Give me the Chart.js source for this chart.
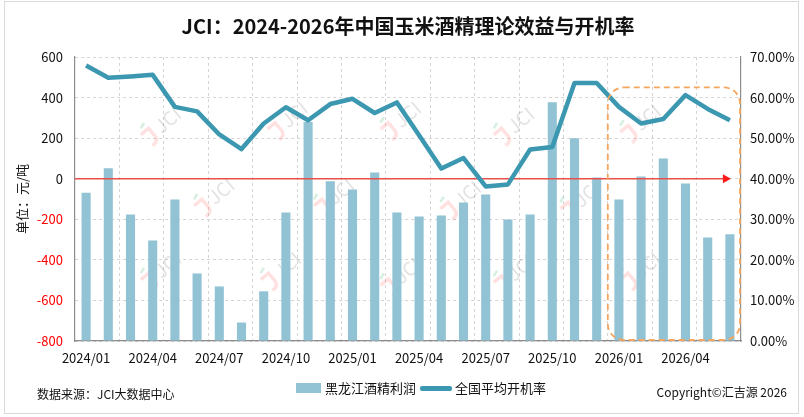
<!DOCTYPE html>
<html>
<head>
<meta charset="utf-8">
<script src="https://cdn.jsdelivr.net/npm/chart.js@4"></script>
<style>
body{margin:0;background:#fff;font-family:"Noto Sans CJK SC","Noto Sans",sans-serif;}
#wrap{position:relative;width:804px;height:417px;overflow:hidden;}
#frame{position:absolute;left:4px;top:1px;width:793px;height:411px;border:1px solid #d9d9d9;}
#myChart{position:absolute;left:0;top:0;}
#title{position:absolute;left:75px;width:666px;top:12px;text-align:center;font-size:20px;font-weight:bold;color:#111;line-height:28px;}
#legend{position:absolute;left:296px;top:378px;font-size:13px;color:#111;line-height:18px;white-space:nowrap;}
#legend span{display:inline-block;vertical-align:middle;}
.sw-bar{width:25px;height:10px;background:#92c3d4;margin-right:4px;}
.sw-line{width:32px;height:5px;background:#3c97b0;border-radius:2px;margin:0 3px 0 4px;}
#source{position:absolute;left:37px;top:385px;font-size:12px;color:#111;line-height:18px;}
#copy{position:absolute;right:17px;top:383px;font-size:12px;color:#111;line-height:18px;}
</style>
</head>
<body>
<div id="wrap">
<div id="frame"></div>
<canvas id="myChart" width="804" height="417"></canvas>
<div id="title">JCI：2024-2026年中国玉米酒精理论效益与开机率</div>
<div id="legend"><span class="sw-bar"></span><span>黑龙江酒精利润</span><span class="sw-line"></span><span>全国平均开机率</span></div>
<div id="source">数据来源：JCI大数据中心</div>
<div id="copy">Copyright©汇吉源 2026</div>
</div>
<script>
// months shown on x axis (every 3rd gets a label)
const months = ["2024/01","2024/02","2024/03","2024/04","2024/05","2024/06","2024/07","2024/08","2024/09","2024/10","2024/11","2024/12",
"2025/01","2025/02","2025/03","2025/04","2025/05","2025/06","2025/07","2025/08","2025/09","2025/10","2025/11","2025/12",
"2026/01","2026/02","2026/03","2026/04","2026/05","2026/06"];
// 黑龙江酒精利润 (元/吨)
const profit = [-69,51,-176,-305,-102,-467,-531,-709,-555,-166,280,-13,
-53,31,-166,-186,-181,-117,-78,-201,-176,377,199,6,
-102,11,100,-23,-290,-274];
// 全国平均开机率 (%)
const rate = [67.9,64.9,65.2,65.6,57.7,56.6,50.9,47.3,53.6,57.6,54.4,58.4,
59.7,56.2,58.8,50.7,42.5,45.1,38.1,38.6,47.2,47.8,63.6,63.6,
57.7,53.6,54.7,60.6,57.2,54.4];
const leftTicks = [-800,-600,-400,-200,0,200,400,600];
const rightTicks = [0,10,20,30,40,50,60,70];
const highlightFrom = "2026/01";
const highlightTop = 62.5;

const font = "'Noto Sans CJK SC','Noto Sans',sans-serif";

// faint JCI watermarks, positions as fractions of the plot area
const marks = [[0.13,0.24],[0.32,0.22],[0.49,0.22],[0.66,0.24],[0.85,0.23],
[0.21,0.49],[0.39,0.49],[0.58,0.5],[0.76,0.5],
[0.13,0.75],[0.31,0.75],[0.49,0.77],[0.66,0.76],[0.85,0.75]];

const decor = {
  id: "decor",
  beforeDatasetsDraw(chart){
    const c = chart.ctx, a = chart.chartArea;
    c.save();
    marks.forEach(m => {
      c.save();
      c.translate(a.left + m[0]*(a.right-a.left), a.top + m[1]*(a.bottom-a.top));
      c.rotate(-0.7);
      c.strokeStyle = "rgba(255,120,120,0.22)";
      c.lineWidth = 3.5;
      c.beginPath();
      c.moveTo(-22,-6);c.lineTo(-12,-6);c.lineTo(-12,4);c.quadraticCurveTo(-12,10,-20,10);
      c.stroke();
      c.strokeStyle = "rgba(90,190,130,0.25)";
      c.lineWidth = 2.5;
      c.beginPath();c.moveTo(-18,-11);c.lineTo(-12,-13);c.stroke();
      c.fillStyle = "rgba(110,110,110,0.2)";
      c.font = "19px " + font;
      c.textBaseline = "middle";
      c.fillText("JCI", -6, 0);
      c.restore();
    });
    c.restore();
  },
  afterDatasetDraw(chart, args){
    if(args.index !== 0) return;
    const c = chart.ctx, a = chart.chartArea;
    const y0 = chart.scales.y.getPixelForValue(0);
    const end = chart.scales.x.getPixelForValue(months.length-1) + 1;
    c.save();
    c.strokeStyle = "#e8504a";
    c.lineWidth = 1.5;
    c.beginPath();c.moveTo(a.left,y0);c.lineTo(end-6,y0);c.stroke();
    c.fillStyle = "#ff1a1a";
    c.beginPath();c.moveTo(end,y0);c.lineTo(end-8,y0-4.5);c.lineTo(end-8,y0+4.5);c.closePath();c.fill();
    c.restore();
  },
  afterDraw(chart){
    const c = chart.ctx, a = chart.chartArea, x = chart.scales.x;
    const i = months.indexOf(highlightFrom);
    const half = (x.getPixelForValue(1) - x.getPixelForValue(0))/2;
    const l = x.getPixelForValue(i) - half, r = a.right - 1;
    const t = chart.scales.y1.getPixelForValue(highlightTop), b = a.bottom - 1;
    const rad = 16;
    c.save();
    c.strokeStyle = "#f4a55e";
    c.lineWidth = 1.8;
    c.setLineDash([6,4]);
    c.beginPath();
    c.roundRect(l, t, r-l, b-t, rad);
    c.stroke();
    c.restore();
  }
};

new Chart("myChart", {
  data: {
    labels: months,
    datasets: [{
      type: "bar",
      label: "黑龙江酒精利润",
      data: profit,
      yAxisID: "y",
      base: leftTicks[0],
      backgroundColor: "#92c3d4",
      barPercentage: 0.41,
      categoryPercentage: 1,
      order: 1
    },{
      type: "line",
      label: "全国平均开机率",
      data: rate,
      yAxisID: "y1",
      borderColor: "#3c97b0",
      borderWidth: 4.5,
      pointRadius: 0,
      tension: 0,
      borderJoinStyle: "round",
      order: 0
    }]
  },
  plugins: [decor],
  options: {
    responsive: false,
    animation: false,
    layout: {padding: {top: 57, left: 0, right: 0, bottom: 0}},
    plugins: {legend: {display: false}, tooltip: {enabled: false}},
    scales: {
      x: {
        offset: true,
        grid: {
          offset: true,
          drawTicks: false,
          color: ctx => (ctx.index % 2 === 0 && ctx.index > 0 && ctx.index < months.length) ? "#d4d4d4" : "rgba(0,0,0,0)"
        },
        border: {color: "#8c8c8c", width: 1.2, dash: [3,3]},
        ticks: {
          autoSkip: false, maxRotation: 0, padding: 9,
          color: "#111", font: {family: font, size: 13},
          callback: (v, i) => i % 3 === 0 ? months[i] : ""
        },
        afterFit: s => { s.height = 76; }
      },
      y: {
        position: "left",
        min: -800, max: 600,
        afterBuildTicks: s => { s.ticks = leftTicks.map(v => ({value: v})); },
        grid: {color: "#d4d4d4", drawTicks: false},
        border: {color: "#8c8c8c", width: 1.2, dash: [3,3]},
        ticks: {
          padding: 12,
          color: ctx => ctx.tick && ctx.tick.value < 0 ? "#ff0000" : "#111",
          font: {family: font, size: 13}
        },
        title: {display: true, text: "单位：元/吨", color: "#111", font: {family: font, size: 13}, padding: {top: 14}},
        afterFit: s => { s.width = 75; }
      },
      y1: {
        position: "right",
        min: 0, max: 70,
        afterBuildTicks: s => { s.ticks = rightTicks.map(v => ({value: v})); },
        grid: {display: false, drawTicks: false},
        border: {color: "#8c8c8c", width: 1.2},
        ticks: {
          padding: 9, color: "#111", font: {family: font, size: 13},
          callback: v => v.toFixed(2) + "%"
        },
        afterFit: s => { s.width = 63; }
      }
    }
  }
});
</script>
</body>
</html>
